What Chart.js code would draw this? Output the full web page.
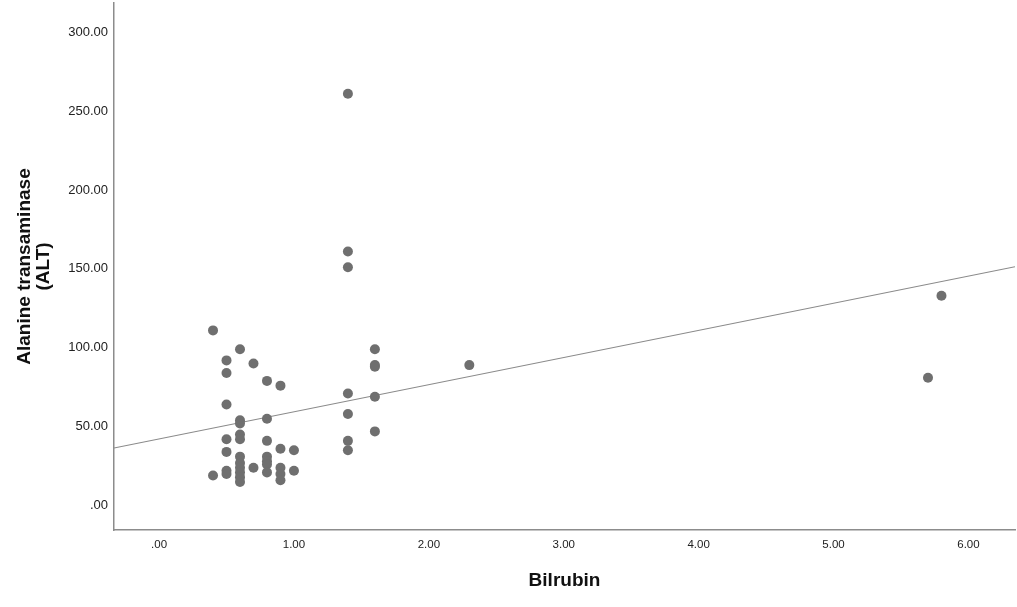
<!DOCTYPE html>
<html>
<head>
<meta charset="utf-8">
<script src="https://cdn.jsdelivr.net/npm/chart.js@4"></script>
<style>
  body { margin: 0; background: #fff; }
</style>
</head>
<body>
<canvas id="scatterChart" width="1017" height="607"></canvas>
<script>
// Bilrubin (x) and ALT (y) values
const bilirubin = [
  0.4, 0.4,
  0.5, 0.5, 0.5, 0.5, 0.5, 0.5, 0.5,
  0.6, 0.6, 0.6, 0.6, 0.6, 0.6, 0.6, 0.6, 0.6, 0.6, 0.6,
  0.7, 0.7,
  0.8, 0.8, 0.8, 0.8, 0.8, 0.8, 0.8,
  0.9, 0.9, 0.9, 0.9, 0.9,
  1.0, 1.0,
  1.4, 1.4, 1.4, 1.4, 1.4, 1.4, 1.4,
  1.6, 1.6, 1.6, 1.6, 1.6,
  2.3, 5.7, 5.8
];
const alt = [
  111, 19,
  92, 84, 64, 42, 34, 22, 20,
  99, 54, 52, 45, 42, 31, 27, 24, 21, 18, 15,
  90, 24,
  79, 55, 41, 31, 28, 26, 21,
  76, 36, 24, 20, 16,
  35, 22,
  261, 161, 151, 71, 58, 41, 35,
  99, 89, 88, 69, 47,
  89, 81, 133
];

// fit line as drawn in the original
const fitIntercept = 42.2;
const fitSlope = 17.2;

const xTicks = [0, 1, 2, 3, 4, 5, 6];
const yTicks = [0, 50, 100, 150, 200, 250, 300];
const xRange = [-0.334, 6.345];
const yRange = [-15.5, 318.5];

const points = bilirubin.map((x, i) => ({ x: x, y: alt[i] }));
const fitLine = xRange.map(x => ({ x: x, y: fitIntercept + fitSlope * x }));

const fmt = v => {
  const s = v.toFixed(2);
  return s.startsWith('0') ? s.slice(1) : s;
};

const ctx = document.getElementById('scatterChart').getContext('2d');
const scatterChart = new Chart(ctx, {
    type: 'scatter',
    data: {
        datasets: [{
            label: 'ALT',
            data: points,
            backgroundColor: '#6f6f6f',
            borderWidth: 0,
            pointRadius: 5,
            pointHoverRadius: 5
        }, {
            type: 'line',
            label: 'Fit',
            data: fitLine,
            borderColor: '#8a8a8a',
            borderWidth: 1.2,
            pointRadius: 0,
            fill: false
        }]
    },
    options: {
        responsive: false,
        animation: false,
        layout: { autoPadding: false, padding: { top: 3, right: 2, left: 0, bottom: 0 } },
        plugins: {
            legend: { display: false },
            tooltip: { enabled: false }
        },
        scales: {
            x: {
                type: 'linear',
                min: xRange[0],
                max: xRange[1],
                afterBuildTicks: s => { s.ticks = xTicks.map(v => ({ value: v })); },
                afterFit: s => { s.height = 77; s.paddingLeft = 0; s.paddingRight = 0; },
                grid: { display: false, drawTicks: false },
                border: { display: true, color: '#8c8c8c', width: 1.5 },
                ticks: {
                    padding: 8,
                    maxRotation: 0,
                    color: '#222',
                    font: { family: 'Liberation Sans', size: 11.5 },
                    callback: v => fmt(v)
                },
                title: {
                    display: true,
                    text: 'Bilrubin',
                    color: '#111',
                    font: { family: 'Liberation Sans', size: 19, weight: 'bold' },
                    padding: { top: 0, bottom: 15 }
                }
            },
            y: {
                type: 'linear',
                min: yRange[0],
                max: yRange[1],
                afterBuildTicks: s => { s.ticks = yTicks.map(v => ({ value: v })); },
                afterFit: s => { s.width = 114; s.paddingTop = 0; s.paddingBottom = 0; },
                grid: { display: false, drawTicks: false },
                border: { display: true, color: '#8c8c8c', width: 1.5 },
                ticks: {
                    padding: 6,
                    color: '#222',
                    font: { family: 'Liberation Sans', size: 13 },
                    callback: v => fmt(v)
                },
                title: {
                    display: true,
                    text: ['Alanine transaminase', '(ALT)'],
                    color: '#111',
                    font: { family: 'Liberation Sans', size: 19, weight: 'bold', lineHeight: 1.0 },
                    padding: { top: 15, bottom: 0 }
                }
            }
        }
    }
});
</script>
</body>
</html>
